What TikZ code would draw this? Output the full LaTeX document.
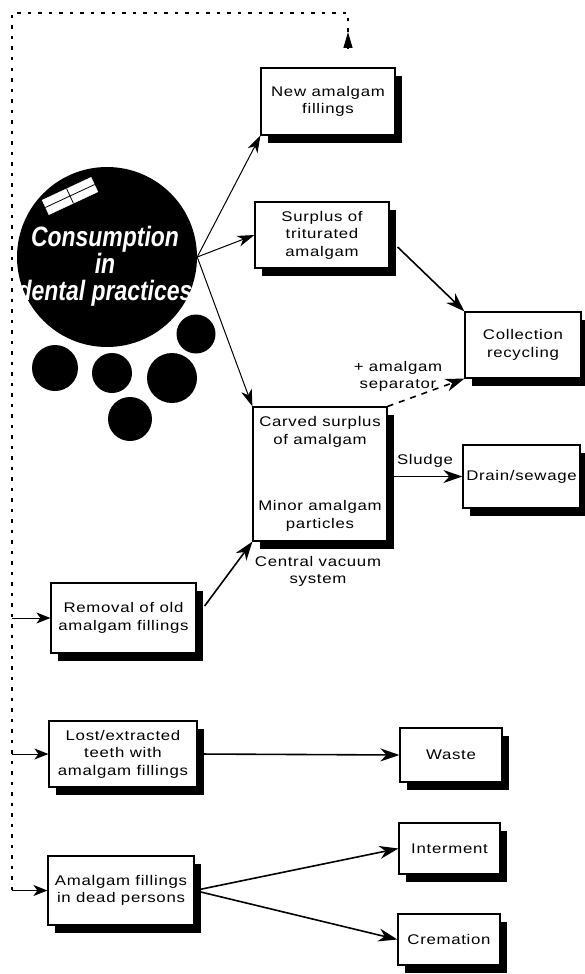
\documentclass[tikz,border=0pt]{standalone}
\usepackage{fontspec}
\usepackage{tikz}
\usetikzlibrary{arrows.meta,shadows}
\newfontfamily\boxfont{Liberation Sans}[FakeStretch=1.2,LetterSpace=5]
\newfontfamily\ballfont{Liberation Sans}[FakeStretch=0.82]

\begin{document}
\begin{tikzpicture}[x=1pt,y=-1pt,
    box/.style={draw,fill=white,line width=1.2pt,inner sep=0pt,align=center,font=\boxfont\fontsize{14}{17.5}\selectfont,drop shadow={shadow xshift=7pt,shadow yshift=-8pt,fill=black,opacity=1}},
    ball/.style={circle,fill=black,inner sep=0pt},
    note/.style={align=center,font=\boxfont\fontsize{14}{17}\selectfont},
    flow/.style={line width=1.6pt,-{Stealth[length=19pt,width=13pt,inset=6pt]}},
    thin flow/.style={line width=1pt,-{Stealth[length=17pt,width=11pt,inset=5pt]}},
    branch/.style={line width=1pt,-{Stealth[length=14pt,width=11pt,inset=4pt]}},
    feedback/.style={line width=2.2pt,dash pattern=on 3.5pt off 7pt}]
  \useasboundingbox (0,0) rectangle (584,974);

  % consumption
  \node[ball,minimum size=180pt] (cons) at (107,257) {};
  \node[draw=white,fill=white,minimum width=54pt,minimum height=16pt,inner sep=0pt,rotate=25] (tooth) at (70,196) {};
  \draw[line width=0.8pt] (tooth.west) -- (tooth.east);
  \draw[line width=0.8pt] (tooth.north) -- (tooth.south);
  \node[text=white,align=center,font=\ballfont\bfseries\itshape\fontsize{28}{27}\selectfont] (constext) at (105,266) {Consumption\\in\\dental practices};
  \node[ball,minimum size=39pt] (b1) at (196,334) {};
  \node[ball,minimum size=50pt] (b2) at (172,378) {};
  \node[ball,minimum size=40pt] (b3) at (112,373) {};
  \node[ball,minimum size=44pt] (b4) at (130,419) {};
  \node[ball,minimum size=46pt] (b5) at (55,368) {};

  \node[box,minimum width=134pt,minimum height=67pt]  (nf) at (328,101.5) {New amalgam\\fillings};
  \node[box,minimum width=134pt,minimum height=66pt]  (sp) at (322,235) {Surplus of\\triturated\\amalgam};
  \node[box,minimum width=116pt,minimum height=66pt]  (cr) at (523,345) {Collection\\recycling};
  \node[box,minimum width=134pt,minimum height=134pt] (cs) at (320,474) {Carved surplus\\of amalgam\\[49pt]Minor amalgam\\particles};
  \node[box,minimum width=117pt,minimum height=63pt]  (ds) at (521.5,476.5) {Drain/sewage};
  \node[box,minimum width=145pt,minimum height=70pt]  (ro) at (123.5,618) {Removal of old\\amalgam fillings};
  \node[box,minimum width=148pt,minimum height=66pt]  (le) at (123,754) {Lost/extracted\\teeth with\\amalgam fillings};
  \node[box,minimum width=102pt,minimum height=54pt]  (wa) at (451,755) {Waste};
  \node[box,minimum width=101pt,minimum height=51pt]  (in) at (449.5,848.5) {Interment};
  \node[box,minimum width=102pt,minimum height=51pt]  (cm) at (449,939.5) {Cremation};
  \node[box,minimum width=146pt,minimum height=69pt]  (dp) at (121,890.5) {Amalgam fillings\\in dead persons};

  \node[note] (sep) at (398,376) {+ amalgam\\separator};
  \node[note] (cvs) at (318,571) {Central vacuum\\system};

  \draw[thin flow] (cons.east) -- (nf.south west);
  \draw[thin flow] (cons.east) -- (sp.west);
  \draw[thin flow] (cons.east) -- (cs.north west);
  \draw[flow] ([xshift=8pt,yshift=-12pt]sp.east) -- (cr.north west);
  \draw[flow,dash pattern=on 6pt off 6pt] (cs.north east) -- (cr.south west);
  \draw[flow] (cs.east |- ds.west) -- (ds.west) node[midway,above=5pt,note] (sl) {Sludge};
  \draw[flow] ([xshift=8pt,yshift=12pt]ro.east) -- (cs.south west);
  \draw[flow] (le.east) -- (wa.west);
  \draw[flow] (dp.east) -- (in.west);
  \draw[flow] (dp.east) -- (cm.west);

  % feedback loop
  \coordinate (start) at (348,48);
  \coordinate (tip) at (348,32);
  \coordinate (corner) at (348,13);
  \coordinate (lefttop) at (12,13);
  \coordinate (j1) at (12,618);
  \coordinate (j2) at (12,754);
  \coordinate (j3) at (12,890.5);
  \draw[line width=1.2pt,-{Triangle[length=16pt,width=9pt]}] (start) -- (tip);
  \draw[feedback] (tip) -- (corner) -- (lefttop) -- (j3);
  \draw[branch] (j1) -- (ro.west);
  \draw[branch] (j2) -- (le.west);
  \draw[branch] (j3) -- (dp.west);
\end{tikzpicture}
\end{document}
